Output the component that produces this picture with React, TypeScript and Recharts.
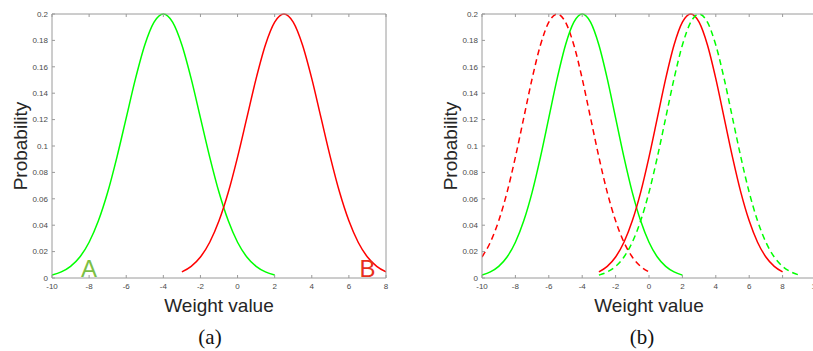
import React from 'react';
import { LineChart, Line, XAxis, YAxis, ReferenceDot, Label } from 'recharts';

const greenSolidX = [-10, -9.5, -9, -8.5, -8, -7.5, -7, -6.5, -6, -5.5, -5, -4.5, -4, -3.5, -3, -2.5, -2, -1.5, -1, -0.5, 0, 0.5, 1, 1.5, 2];
const greenSolidY = [0.0022, 0.0046, 0.0088, 0.0159, 0.0271, 0.0433, 0.0649, 0.0916, 0.1213, 0.151, 0.1765, 0.1938, 0.2, 0.1938, 0.1765, 0.151, 0.1213, 0.0916, 0.0649, 0.0433, 0.0271, 0.0159, 0.0088, 0.0046, 0.0022];

const redSolidX = [-3, -2.5, -2, -1.5, -1, -0.5, 0, 0.5, 1, 1.5, 2, 2.5, 3, 3.5, 4, 4.5, 5, 5.5, 6, 6.5, 7, 7.5, 8];
const redSolidY = [0.0046, 0.0088, 0.0159, 0.0271, 0.0433, 0.0649, 0.0916, 0.1213, 0.151, 0.1765, 0.1938, 0.2, 0.1938, 0.1765, 0.151, 0.1213, 0.0916, 0.0649, 0.0433, 0.0271, 0.0159, 0.0088, 0.0046];

const redDashedX = [-10, -9.5, -9, -8.5, -8, -7.5, -7, -6.5, -6, -5.5, -5, -4.5, -4, -3.5, -3, -2.5, -2, -1.5, -1, -0.5, 0];
const redDashedY = [0.0159, 0.0271, 0.0433, 0.0649, 0.0916, 0.1213, 0.151, 0.1765, 0.1938, 0.2, 0.1938, 0.1765, 0.151, 0.1213, 0.0916, 0.0649, 0.0433, 0.0271, 0.0159, 0.0088, 0.0046];

const greenDashedX = [-3, -2.5, -2, -1.5, -1, -0.5, 0, 0.5, 1, 1.5, 2, 2.5, 3, 3.5, 4, 4.5, 5, 5.5, 6, 6.5, 7, 7.5, 8, 8.5, 9];
const greenDashedY = [0.0022, 0.0046, 0.0088, 0.0159, 0.0271, 0.0433, 0.0649, 0.0916, 0.1213, 0.151, 0.1765, 0.1938, 0.2, 0.1938, 0.1765, 0.151, 0.1213, 0.0916, 0.0649, 0.0433, 0.0271, 0.0159, 0.0088, 0.0046, 0.0022];

const xTicksA = [-10, -8, -6, -4, -2, 0, 2, 4, 6, 8];
const xTicksB = [-10, -8, -6, -4, -2, 0, 2, 4, 6, 8, 10];
const yTicks = [0, 0.02, 0.04, 0.06, 0.08, 0.1, 0.12, 0.14, 0.16, 0.18, 0.2];

const AXIS = '#9a9a9a';
const TICK_TEXT = '#4a4a4a';
const GREEN = '#00ff00';
const RED = '#ff0000';
const SANS = '"Liberation Sans", Arial, Helvetica, sans-serif';

const toRows = (xs: number[], ys: number[]) => xs.map((x, i) => ({ x, y: ys[i] }));
const fmt = (v: number) => String(+v.toFixed(2));

const BottomTick = (props: any) => {
  const { x, y, payload } = props;
  return (
    <g>
      <line x1={x} x2={x} y1={y} y2={y - 3} stroke={AXIS} />
      <text x={x} y={y + 8} dy="0.35em" textAnchor="middle" fontSize={8} fill={TICK_TEXT} fontFamily={SANS}>
        {fmt(payload.value)}
      </text>
    </g>
  );
};
const TopTick = (props: any) => (
  <line x1={props.x} x2={props.x} y1={props.y} y2={props.y + 3} stroke={AXIS} />
);
const LeftTick = (props: any) => {
  const { x, y, payload } = props;
  return (
    <g>
      <line x1={x} x2={x + 3} y1={y} y2={y} stroke={AXIS} />
      <text x={x - 4} y={y} dy="0.35em" textAnchor="end" fontSize={8} fill={TICK_TEXT} fontFamily={SANS}>
        {fmt(payload.value)}
      </text>
    </g>
  );
};
const RightTick = (props: any) => (
  <line x1={props.x} x2={props.x - 3} y1={props.y} y2={props.y} stroke={AXIS} />
);

const letter = (text: string, color: string) => (p: any) => {
  const vb = p.viewBox || {};
  return (
    <text x={vb.x} y={vb.y - 1} textAnchor="middle" fontSize={24} fill={color} fontFamily={SANS}>
      {text}
    </text>
  );
};

interface Series {
  key: string;
  xs: number[];
  ys: number[];
  color: string;
  dashed?: boolean;
}

function Panel({
  series,
  xMax,
  xTicks,
  left,
  right,
  children,
}: {
  series: Series[];
  xMax: number;
  xTicks: number[];
  left: number;
  right: number;
  children?: React.ReactNode;
}) {
  return (
    <LineChart width={410} height={351} margin={{ top: 13, right, bottom: 53, left }}>
      <XAxis
        type="number"
        dataKey="x"
        domain={[-10, xMax]}
        ticks={xTicks}
        interval={0}
        allowDataOverflow
        height={20}
        tickSize={0}
        tickMargin={0}
        tickLine={false}
        axisLine={{ stroke: AXIS }}
        tick={BottomTick}
      >
        <Label value="Weight value" position="bottom" offset={1} fontSize={19} fill="#262626" fontFamily={SANS} />
      </XAxis>
      <XAxis
        xAxisId="top"
        orientation="top"
        type="number"
        dataKey="x"
        domain={[-10, xMax]}
        ticks={xTicks}
        interval={0}
        allowDataOverflow
        height={1}
        tickSize={0}
        tickMargin={0}
        tickLine={false}
        axisLine={{ stroke: AXIS }}
        tick={TopTick}
      />
      <YAxis
        type="number"
        domain={[0, 0.2]}
        ticks={yTicks}
        interval={0}
        width={30}
        tickSize={0}
        tickMargin={0}
        tickLine={false}
        axisLine={{ stroke: AXIS }}
        tick={LeftTick}
      >
        <Label
          value="Probability"
          angle={-90}
          position="insideLeft"
          offset={-2}
          fontSize={19}
          fill="#262626"
          fontFamily={SANS}
          style={{ textAnchor: 'middle' }}
        />
      </YAxis>
      <YAxis
        yAxisId="right"
        orientation="right"
        type="number"
        domain={[0, 0.2]}
        ticks={yTicks}
        interval={0}
        width={1}
        tickSize={0}
        tickMargin={0}
        tickLine={false}
        axisLine={{ stroke: AXIS }}
        tick={RightTick}
      />
      {series.map((s) => (
        <Line
          key={s.key}
          data={toRows(s.xs, s.ys)}
          dataKey="y"
          type="monotone"
          stroke={s.color}
          strokeWidth={1.5}
          strokeDasharray={s.dashed ? '6 4' : undefined}
          dot={false}
          activeDot={false}
          isAnimationActive={false}
        />
      ))}
      {children}
    </LineChart>
  );
}

export default function App() {
  const seriesA: Series[] = [
    { key: 'gA', xs: greenSolidX, ys: greenSolidY, color: GREEN },
    { key: 'rA', xs: redSolidX, ys: redSolidY, color: RED },
  ];
  const seriesB: Series[] = [
    { key: 'rBd', xs: redDashedX, ys: redDashedY, color: RED, dashed: true },
    { key: 'gB', xs: greenSolidX, ys: greenSolidY, color: GREEN },
    { key: 'rB', xs: redSolidX, ys: redSolidY, color: RED },
    { key: 'gBd', xs: greenDashedX, ys: greenDashedY, color: GREEN, dashed: true },
  ];
  const caption: React.CSSProperties = {
    position: 'absolute',
    top: 325,
    width: 60,
    textAlign: 'center',
    fontFamily: '"Liberation Serif", "DejaVu Serif", serif',
    fontSize: 21,
    color: '#111',
    lineHeight: '24px',
  };
  return (
    <div style={{ position: 'absolute', left: 0, top: 0, width: 813, height: 351, overflow: 'hidden', background: '#fff' }}>
      <div style={{ position: 'absolute', left: 0, top: 0 }}>
        <Panel series={seriesA} xMax={8} xTicks={xTicksA} left={22} right={23}>
          <ReferenceDot x={-8} y={0} r={0} fill="none" stroke="none" ifOverflow="visible" label={letter('A', '#7cbf45')} />
          <ReferenceDot x={7} y={0} r={0} fill="none" stroke="none" ifOverflow="visible" label={letter('B', '#e8301c')} />
        </Panel>
      </div>
      <div style={{ position: 'absolute', left: 410, top: 0 }}>
        <Panel series={seriesB} xMax={10} xTicks={xTicksB} left={42} right={3} />
      </div>
      <div style={{ ...caption, left: 180 }}>(a)</div>
      <div style={{ ...caption, left: 612 }}>(b)</div>
    </div>
  );
}
